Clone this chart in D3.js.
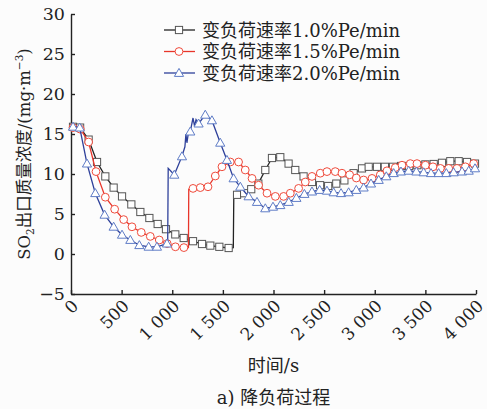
<!DOCTYPE html>
<html>
<head>
<meta charset="utf-8">
<script src="https://cdn.jsdelivr.net/npm/d3@7"></script>
<style>
  body { margin: 0; background: #fcfcfc; }
  svg { display: block; }
</style>
</head>
<body>
<div id="chart"></div>
<script>
// tick labels
var xTickValues = [0, 500, 1000, 1500, 2000, 2500, 3000, 3500, 4000];
var xTickLabels = ["0", "500", "1 000", "1 500", "2 000", "2 500", "3 000", "3 500", "4 000"];
var yTickValues = [-5, 0, 5, 10, 15, 20, 25, 30];
var yTickLabels = ["\u22125", "0", "5", "10", "15", "20", "25", "30"];

var seriesNames = ["变负荷速率1.0%Pe/min", "变负荷速率1.5%Pe/min", "变负荷速率2.0%Pe/min"];

// marked points [time s, SO2 mg/m3]
var rate10 = [[20,15.9],[90,15.8],[174,14.3],[257,11.5],[339,9.7],[421,8.3],[504,7.2],[596,6.2],[685,5.25],
  [774,4.5],[856,3.75],[938,3.1],[1030,2.45],[1113,2.0],[1205,1.6],[1294,1.25],[1376,1.05],[1465,0.9],
  [1557,0.75],[1640,7.4],[1710,7.6],[1780,8.1],[1850,8.8],[1919,10.5],[1985,12.0],[2067,12.1],[2149,11.3],
  [2215,10.5],[2297,9.7],[2380,9.0],[2460,8.6],[2540,8.5],[2620,8.8],[2700,9.2],[2791,10.1],[2874,10.7],
  [2940,10.9],[3022,10.9],[3100,10.9],[3180,10.9],[3260,11.0],[3340,11.0],[3420,11.1],[3500,11.2],
  [3582,11.25],[3664,11.4],[3746,11.6],[3829,11.6],[3911,11.5],[3990,11.3]];
var rate15 = [[20,15.8],[92,15.6],[174,14.0],[247,10.3],[339,7.1],[431,5.6],[520,4.3],[602,3.4],[694,2.7],
  [783,2.2],[872,1.75],[950,1.3],[1031,0.9],[1115,0.8],[1205,8.2],[1277,8.3],[1353,8.4],[1425,9.75],
  [1491,10.9],[1573,11.5],[1655,11.5],[1721,10.5],[1788,9.45],[1853,8.6],[1936,7.6],[2018,7.2],[2100,7.2],
  [2166,7.6],[2248,8.2],[2314,9.0],[2380,9.7],[2462,10.1],[2528,10.3],[2610,10.3],[2676,10.1],[2752,9.9],
  [2818,9.5],[2890,9.25],[2973,9.45],[3055,9.9],[3121,10.4],[3203,10.8],[3269,11.1],[3351,11.3],[3417,11.3],
  [3500,11.1],[3575,10.9],[3648,10.7],[3730,10.7],[3812,10.7],[3895,10.9],[3977,11.3]];
var rate20 = [[20,15.9],[86,15.8],[158,11.3],[240,7.6],[332,4.9],[421,3.4],[504,2.4],[586,1.75],[675,1.1],
  [767,0.9],[849,0.9],[948,1.3],[1020,9.9],[1096,12.2],[1178,15.3],[1260,16.3],[1326,17.4],[1392,16.7],
  [1474,13.9],[1540,11.75],[1606,9.45],[1672,8.4],[1754,7.2],[1837,6.5],[1919,5.7],[1995,5.9],[2067,6.1],
  [2150,6.5],[2226,7.0],[2305,7.5],[2380,7.8],[2456,8.0],[2528,7.9],[2594,7.7],[2667,7.6],[2742,7.7],
  [2818,8.0],[2890,8.3],[2963,8.8],[3039,9.25],[3114,9.7],[3187,10.1],[3259,10.3],[3335,10.4],[3411,10.3],
  [3483,10.2],[3556,10.1],[3631,10.1],[3707,10.1],[3779,10.2],[3862,10.3],[3928,10.4],[3990,10.7]];

// unmarked points (jumps and small wiggles)
var rate10Extra = [[1603,0.8],[1608,7.4]];
var rate15Extra = [[1160,0.8],[1163,8.1]];
var rate20Extra = [[955,1.4],[960,10.7],[1125,13.4],[1135,15.0],[1145,13.9],[1160,15.2],[1205,17.0],[1220,16.0],[1235,16.8]];

// DejaVu Serif is the serif that is really there, CJK falls back to Noto
var FONT = "DejaVu Serif, Noto Sans CJK SC";

var W = 487, H = 409;
var margin = {top: 14, right: 11, bottom: 115, left: 71};
var width = W - margin.left - margin.right,
    height = H - margin.top - margin.bottom;

var svg = d3.select("#chart").append("svg")
    .attr("width", W).attr("height", H)
    .style("background", "#fcfcfc");

var g = svg.append("g")
    .attr("transform", "translate(" + margin.left + "," + margin.top + ")");

var x = d3.scaleLinear().domain([0, 4000]).range([0, width]);
var y = d3.scaleLinear().domain([-5, 30]).range([height, 0]);

// y axis, ticks pointing inside
var yAxis = g.append("g")
    .call(d3.axisLeft(y).tickValues(yTickValues)
      .tickFormat(function(d, i) { return yTickLabels[i]; })
      .tickSizeInner(-4).tickSizeOuter(0).tickPadding(6));
yAxis.attr("font-family", FONT).attr("font-size", 17.5);

// x axis
var xAxis = g.append("g")
    .attr("transform", "translate(0," + height + ")")
    .call(d3.axisBottom(x).tickValues(xTickValues)
      .tickFormat(function(d, i) { return xTickLabels[i]; })
      .tickSizeInner(-4).tickSizeOuter(0));
xAxis.attr("font-family", FONT).attr("font-size", 17);
xAxis.selectAll("text")
    .attr("y", 0).attr("dy", 0)
    .attr("text-anchor", "end")
    .attr("transform", "translate(8,13) rotate(-45)");

g.selectAll(".tick text").attr("fill", "#222");
svg.selectAll(".domain, .tick line").attr("stroke", "#222").attr("stroke-width", 1.4);

var series = [
  {name: seriesNames[0], pts: rate10, extra: rate10Extra, line: "#222", mark: "#555", shape: "square"},
  {name: seriesNames[1], pts: rate15, extra: rate15Extra, line: "#e8352a", mark: "#ef4b3c", shape: "circle"},
  {name: seriesNames[2], pts: rate20, extra: rate20Extra, line: "#2e409a", mark: "#5f7cc6", shape: "triangle"}
];

var valueline = d3.line()
    .x(function(d) { return x(d[0]); })
    .y(function(d) { return y(d[1]); });

function marker(sel, s) {
  if (s.shape == "square") {
    sel.append("rect").attr("x", -3.6).attr("y", -3.6).attr("width", 7.2).attr("height", 7.2);
  } else if (s.shape == "circle") {
    sel.append("circle").attr("r", 3.9);
  } else {
    sel.append("path").attr("d", "M0,-4.6L4.6,3.4L-4.6,3.4Z");
  }
  sel.selectAll("*").attr("fill", "#fff").attr("stroke", s.mark).attr("stroke-width", 1);
}

series.forEach(function(s) {
  var all = s.pts.concat(s.extra).sort(function(a, b) { return a[0] - b[0]; });
  g.append("path")
    .datum(all)
    .attr("fill", "none")
    .attr("stroke", s.line)
    .attr("stroke-width", 1.3)
    .attr("d", valueline);
  g.selectAll(null).data(s.pts).enter().append("g")
    .attr("transform", function(d) { return "translate(" + x(d[0]) + "," + y(d[1]) + ")"; })
    .each(function() { marker(d3.select(this), s); });
});

// legend
var legend = svg.selectAll(".lineLegend").data(series)
  .enter().append("g")
    .attr("class", "lineLegend")
    .attr("transform", function(d, i) { return "translate(164," + (30 + i * 21.5) + ")"; });
legend.append("line").attr("x1", 0).attr("x2", 31)
    .attr("stroke", function(d) { return d.line; }).attr("stroke-width", 1.3);
legend.append("g").attr("transform", "translate(15,0)")
    .each(function(d) { marker(d3.select(this), d); });
legend.append("text").attr("x", 38).attr("y", 6.5)
    .attr("fill", "#222")
    .attr("font-family", FONT)
    .attr("font-size", 18)
    .text(function(d) { return d.name; });

// axis titles
svg.append("text")
    .attr("x", margin.left + width / 2).attr("y", 372)
    .attr("text-anchor", "middle").attr("fill", "#222")
    .attr("font-family", FONT).attr("font-size", 18)
    .text("时间/s");

var yt = svg.append("text")
    .attr("transform", "translate(30,154) rotate(-90)")
    .attr("text-anchor", "middle").attr("fill", "#222")
    .attr("font-family", FONT).attr("font-size", 16.5);
yt.append("tspan").text("SO");
yt.append("tspan").attr("dy", 4).attr("font-size", 10.5).text("2");
yt.append("tspan").attr("dy", -4).text("出口质量浓度/(mg·m");
yt.append("tspan").attr("dy", -7).attr("font-size", 10.5).text("\u22123");
yt.append("tspan").attr("dy", 7).text(")");

svg.append("text")
    .attr("x", margin.left + width / 2).attr("y", 404)
    .attr("text-anchor", "middle").attr("fill", "#222")
    .attr("font-family", FONT).attr("font-size", 18)
    .text("a) 降负荷过程");
</script>
</body>
</html>
